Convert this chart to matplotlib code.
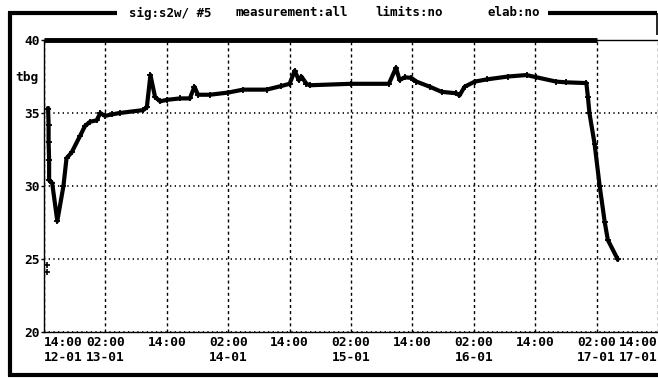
import matplotlib
matplotlib.use('Agg')
import matplotlib.pyplot as plt
from matplotlib.lines import Line2D

# hours elapsed since 14:00 on 12-01
hours = [0.8, 0.9, 0.9, 1.0, 1.0, 1.6, 2.6, 3.8, 4.4, 5.4, 7.0, 8.0, 9.0, 10.3,
         11.0, 11.9, 13.2, 14.8, 19.4, 20.1, 20.8, 21.7, 22.7, 24.0, 26.6, 28.5,
         29.4, 30.1, 32.4, 36.0, 38.9, 43.5, 46.4, 48.0, 49.0, 49.8, 50.3, 51.3,
         51.9, 60.0, 67.4, 68.8, 69.5, 70.5, 71.8, 72.8, 75.4, 77.7, 80.6, 81.2,
         82.2, 84.2, 86.5, 90.7, 94.3, 96.2, 100.1, 102.1, 106.0, 106.3, 106.6,
         107.6, 108.6, 109.6, 110.2, 112.1]
tbg = [35.3, 34.2, 33.0, 31.8, 30.4, 30.2, 27.6, 30.0, 31.9, 32.3, 33.4, 34.1,
       34.4, 34.5, 35.0, 34.8, 34.9, 35.0, 35.2, 35.4, 37.6, 36.1, 35.8, 35.9,
       36.0, 36.0, 36.8, 36.25, 36.25, 36.4, 36.6, 36.6, 36.85, 37.0, 37.9,
       37.25, 37.5, 37.0, 36.9, 37.0, 37.0, 38.1, 37.25, 37.45, 37.4, 37.15,
       36.8, 36.45, 36.35, 36.2, 36.8, 37.15, 37.3, 37.5, 37.6, 37.45, 37.15,
       37.1, 37.05, 36.1, 35.0, 32.9, 30.0, 27.5, 26.3, 25.0]

# isolated readings near the start
stray_hours = [0.5, 0.5]
stray_tbg = [24.6, 24.1]

# acquisition coverage bar along the top of the plot
span_hours = [0, 108]
span_level = [40, 40]

tick_hours = [0, 12, 24, 36, 48, 60, 72, 84, 96, 108, 120]
tick_labels = ['14:00\n12-01', '02:00\n13-01', '14:00', '02:00\n14-01', '14:00',
               '02:00\n15-01', '14:00', '02:00\n16-01', '14:00', '02:00\n17-01',
               '14:00\n17-01']
y_ticks = [20, 25, 30, 35, 40]

plt.rcParams['font.family'] = ['DejaVu Sans Mono']
plt.rcParams['font.weight'] = 'bold'
FS = 9.3

W, H = 658, 378
fig = plt.figure(figsize=(W / 100, H / 100), dpi=100)
ax = fig.add_axes([44 / W, 1 - 332 / H, (W - 44) / W, (332 - 40) / H])

ax.set_xlim(0, 120)
ax.set_ylim(20, 40)

ax.xaxis.grid(True, color='black', lw=1.0, linestyle=(0, (2.2, 2.2)))
ax.yaxis.grid(True, color='black', lw=1.2, linestyle=(0, (0.8, 2.0)))
ax.set_axisbelow(True)

ax.plot(hours, tbg, color='black', lw=3.0, marker='+', ms=5, mew=1.3)
ax.plot(stray_hours, stray_tbg, ls='none', color='black', marker='+', ms=4, mew=1.2)
ax.plot(span_hours, span_level, color='black', lw=3.5, clip_on=False,
        solid_capstyle='butt', zorder=5)

ax.set_xticks(tick_hours)
ax.set_xticklabels(tick_labels, fontsize=FS, linespacing=1.2)
labels = ax.get_xticklabels()
labels[0].set_horizontalalignment('left')
labels[-1].set_horizontalalignment('right')
ax.tick_params(axis='x', length=0, pad=3)

ax.set_yticks(y_ticks)
ax.set_yticklabels([str(v) for v in y_ticks], fontsize=FS)
ax.tick_params(axis='y', length=2, width=1, pad=1)

ax.spines['right'].set_visible(False)
for side in ['left', 'bottom', 'top']:
    ax.spines[side].set_linewidth(1.0)

fig.text(15 / W, 1 - 78 / H, 'tbg', fontsize=FS, ha='left', va='center')


def px(x, y):
    return x / W, 1 - y / H


# window frame around the plot
frame = [
    ([8, 117], [13, 13], 3.0),
    ([548, 657], [13, 13], 3.0),
    ([9.5, 9.5], [12, 376], 3.0),
    ([8, 658], [375, 375], 3.0),
    ([657, 657], [13, 35], 1.2),
]
for xs, ys, lw in frame:
    pts = [px(x, y) for x, y in zip(xs, ys)]
    fig.add_artist(Line2D([p[0] for p in pts], [p[1] for p in pts],
                          transform=fig.transFigure, color='black', lw=lw,
                          solid_capstyle='butt'))

header = [('sig:s2w/ #5', 129), ('measurement:all', 236), ('limits:no', 375),
          ('elab:no', 488)]
for txt, x0 in header:
    fig.text(x0 / W, 1 - 13 / H, txt, fontsize=9.0, ha='left', va='center')

fig.savefig('out.png', dpi=100)
